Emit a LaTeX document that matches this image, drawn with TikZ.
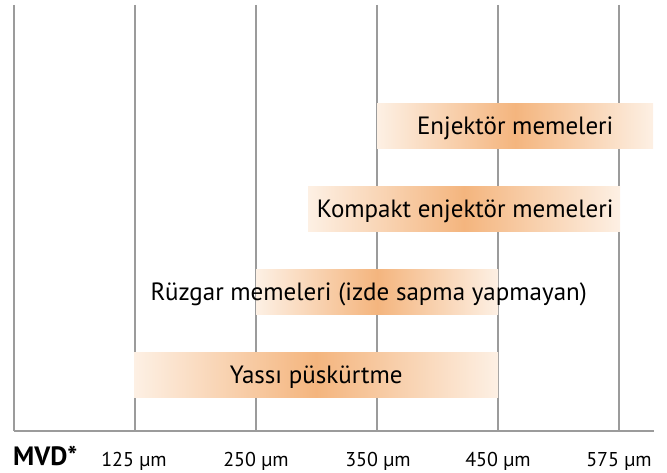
\documentclass[tikz,border=0pt]{standalone}
\usepackage{fontspec}
\setmainfont{PT Sans}
\usetikzlibrary{positioning}
\definecolor{gridgray}{RGB}{155,155,155}
\definecolor{barpale}{RGB}{253,240,228}
\definecolor{barpeak}{RGB}{244,181,126}
\tikzset{
  nozzlebar/.style={rectangle, inner sep=0pt, minimum height=45pt, anchor=north west,
    left color=barpale, right color=barpale, middle color=barpeak},
  barlabel/.style={font=\fontsize{25}{29}\selectfont, inner sep=0pt, anchor=base},
  ticklabel/.style={font=\fontsize{20}{24}\selectfont, inner sep=0pt, anchor=base},
  gridline/.style={draw=gridgray, line width=1.5pt}
}

\begin{document}
\begin{tikzpicture}[x=1pt,y=-1pt]
  \useasboundingbox (0,0) rectangle (667,473);

  % grid
  \foreach \x in {14,135,256,377,498,619}
    \draw[gridline] (\x,5) -- (\x,431);
  \draw[gridline] (14,431) -- (654,431);

  % bars
  \node[nozzlebar, minimum width=276pt] (enj) at (377,103) {};
  \node[nozzlebar, minimum width=312pt] (kompakt) at (308,186) {};
  \node[nozzlebar, minimum width=242pt] (ruzgar) at (256,269) {};
  \node[nozzlebar, minimum width=364pt] (yassi) at (134,352) {};

  % bar labels
  \node[barlabel] (enjtext) at ([yshift=-8.7pt]enj.center) {Enjektör memeleri};
  \node[barlabel] (kompakttext) at ([yshift=-8.7pt, xshift=1pt]kompakt.center) {Kompakt enjektör memeleri};
  \node[barlabel] (ruzgartext) at ([yshift=-8.7pt, xshift=-8.5pt]ruzgar.center) {Rüzgar memeleri (izde sapma yapmayan)};
  \node[barlabel] (yassitext) at ([yshift=-8.7pt]yassi.center) {Yassı püskürtme};

  % axis labels
  \node[ticklabel, anchor=base west, font=\fontsize{26.5}{30}\selectfont\bfseries] (mvd) at (13,465) {MVD*};
  \node[ticklabel] (t125) at (134,466) {125 µm};
  \node[ticklabel] (t250) at (256,466) {250 µm};
  \node[ticklabel] (t350) at (378,466) {350 µm};
  \node[ticklabel] (t450) at (498,466) {450 µm};
  \node[ticklabel] (t575) at (619,466) {575 µm};
\end{tikzpicture}
\end{document}
